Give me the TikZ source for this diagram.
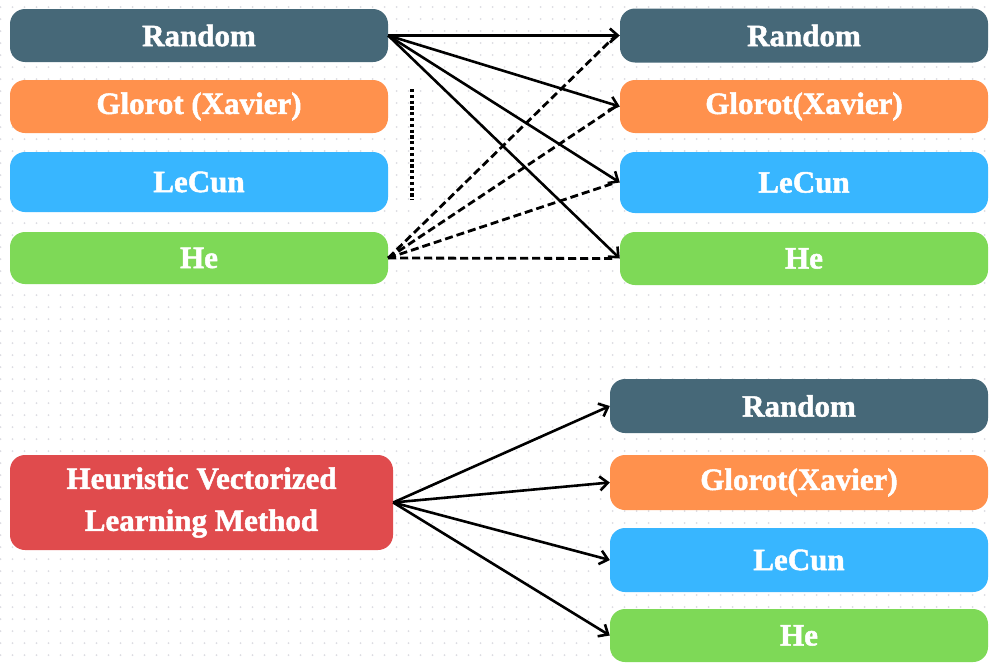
\documentclass[tikz,border=0pt]{standalone}
\usepackage{fontspec}
\setmainfont{Liberation Serif}[BoldFeatures={FakeBold=1.6}]
\usetikzlibrary{arrows.meta}
\definecolor{cslate}{HTML}{466878}
\definecolor{corange}{HTML}{FF914D}
\definecolor{cblue}{HTML}{38B6FF}
\definecolor{cgreen}{HTML}{7ED957}
\definecolor{cred}{HTML}{E04B4D}
\definecolor{cdot}{HTML}{DCDCE2}
\tikzset{
  box/.style={rounded corners=15pt, text=white, align=center,
    font=\fontsize{31}{42}\selectfont\bfseries, inner sep=0pt},
  link/.style={line width=2.6pt, -{Straight Barb[length=8pt,width=14pt,line width=2.6pt]}},
  dlink/.style={line width=2.8pt, dash pattern=on 8pt off 4pt},
}
\begin{document}
\begin{tikzpicture}[x=1pt,y=-1pt]
\useasboundingbox (0,0) rectangle (990,664);
\fill[white] (0,0) rectangle (990,664);
% dotted background grid
\foreach \i in {0,...,82}{
  \foreach \j in {0,...,55}{
    \fill[cdot] (\i*12+0.5,\j*12+7) circle (1);
  }
}
% upper left column
\node[box, fill=cslate,  minimum width=378pt, minimum height=53pt] (rl) at (199,35.5) {Random};
\node[box, fill=corange, minimum width=378pt, minimum height=53pt] (gl) at (199,106.5) {Glorot (Xavier)};
\node[box, fill=cblue,   minimum width=378pt, minimum height=60pt] (ll) at (199,182) {LeCun};
\node[box, fill=cgreen,  minimum width=378pt, minimum height=52pt] (hl) at (199,258) {He};
% upper right column
\node[box, fill=cslate,  minimum width=368pt, minimum height=54pt] (rr) at (804,35.5) {Random};
\node[box, fill=corange, minimum width=368pt, minimum height=53pt] (gr) at (804,106.5) {Glorot(Xavier)};
\node[box, fill=cblue,   minimum width=368pt, minimum height=61pt] (lr) at (804,182.5) {LeCun};
\node[box, fill=cgreen,  minimum width=368pt, minimum height=53pt] (hr) at (804,258.5) {He};
% lower part
\node[box, fill=cred, minimum width=383pt, minimum height=95pt] (hv) at (201.5,502.5) {Heuristic Vectorized\\Learning Method};
\node[box, fill=cslate,  minimum width=378pt, minimum height=54pt] (rb) at (799,406) {Random};
\node[box, fill=corange, minimum width=378pt, minimum height=55pt] (gb) at (799,482.5) {Glorot(Xavier)};
\node[box, fill=cblue,   minimum width=378pt, minimum height=64pt] (lb) at (799,560) {LeCun};
\node[box, fill=cgreen,  minimum width=378pt, minimum height=53pt] (hb) at (799,635.5) {He};
% dotted separator
\coordinate (s1) at (412,89);
\coordinate (s2) at (412,200);
\draw[line width=3.2pt, dash pattern=on 3.2pt off 2.6pt] (s1) -- (s2);
% dashed links from He
\foreach \t in {rr,gr,lr,hr}{
  \draw[dlink] (hl.east) -- ([xshift=-4pt]\t.west);
}
% solid links from Random
\foreach \t in {rr,gr,lr,hr}{
  \draw[link] (rl.east) -- (\t.west);
}
% links from the heuristic method
\foreach \t in {rb,gb,lb,hb}{
  \draw[link] (hv.east) -- (\t.west);
}
\end{tikzpicture}
\end{document}
